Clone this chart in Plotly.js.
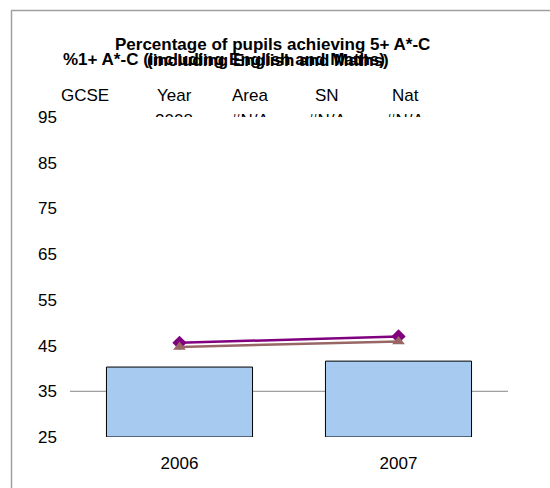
<!DOCTYPE html>
<html>
<head>
<meta charset="utf-8">
<script src="https://cdn.plot.ly/plotly-3.0.1.min.js"></script>
<style>html,body{margin:0;padding:0;background:#fff;}#chart{width:550px;height:488px;}</style>
</head>
<body>
<div id="chart"></div>
<script>
// ---- data ----
var years = ['2006', '2007'];
var schoolValues = [40.3, 41.6];
var areaValues = [45.6, 47.0];
var nationalValues = [44.7, 45.9];
var yTicks = [25, 35, 45, 55, 65, 75, 85, 95];
var referenceLine = 35;
var axisBase = 25;
var tableHeaders = ['GCSE', 'Year', 'Area', 'SN', 'Nat'];
var tableRow = ['', '2008', '#N/A', '#N/A', '#N/A'];
var titleLine1 = 'Percentage of pupils achieving 5+ A*-C';
var titleLine2 = '(including English and Maths)';
var overlapTitle = '%1+ A*-C (including English and Maths)';

// ---- layout geometry ----
var W = 550, H = 488;
var M = {l: 70, r: 42, t: 98, b: 51};
var pw = W - M.l - M.r, ph = H - M.t - M.b;
function px2x(px) { return (px - M.l) / pw; }
function px2y(py) { return 1 - (py - M.t) / ph; }
var plotTop = 117;

var FONT = 'Liberation Sans, Arial, sans-serif';
var headerX = [85, 174, 250, 327, 405];

var traces = [
  {
    type: 'bar', x: years,
    y: schoolValues.map(function (v) { return v - axisBase; }),
    base: axisBase,
    marker: {color: '#A6CAF0', line: {color: '#000000', width: 1}},
    hoverinfo: 'skip', showlegend: false
  },
  {
    type: 'scatter', mode: 'lines+markers', x: years, y: areaValues,
    line: {color: '#800080', width: 2.5},
    marker: {symbol: 'diamond', size: 11, color: '#800080'},
    showlegend: false, hoverinfo: 'skip'
  },
  {
    type: 'scatter', mode: 'lines+markers', x: years, y: nationalValues,
    line: {color: '#996666', width: 2.5},
    marker: {symbol: 'triangle-up', size: 11, color: '#996666'},
    showlegend: false, hoverinfo: 'skip'
  },
  {
    type: 'scatter', mode: 'text', xaxis: 'x2', yaxis: 'y2',
    x: headerX, y: tableRow.map(function () { return 0.2; }),
    text: tableRow, textposition: 'bottom center', cliponaxis: true,
    textfont: {family: FONT, size: 17, color: '#000000'},
    showlegend: false, hoverinfo: 'skip'
  }
];

var annotations = [
  {text: '<b>' + titleLine1 + '</b>', x: px2x(272), y: px2y(44.5)},
  {text: '<b>' + overlapTitle + '</b>', x: px2x(61), y: px2y(60), xanchor: 'left'},
  {text: '<b>' + titleLine2 + '</b>', x: px2x(268), y: px2y(61)}
];
annotations = annotations.map(function (a) {
  return Object.assign({xref: 'paper', yref: 'paper', showarrow: false,
    xanchor: 'center', yanchor: 'middle',
    font: {family: FONT, size: 17, color: '#000000'}}, a);
});
tableHeaders.forEach(function (h, i) {
  annotations.push({text: h, xref: 'paper', yref: 'paper', x: px2x(headerX[i]), y: px2y(95),
    showarrow: false, xanchor: 'center', yanchor: 'middle',
    font: {family: FONT, size: 17, color: '#000000'}});
});

var layout = {
  width: W, height: H,
  margin: M,
  paper_bgcolor: '#ffffff', plot_bgcolor: 'rgba(0,0,0,0)',
  bargap: 0.333,
  xaxis: {
    type: 'category', range: [-0.5, 1.5], showgrid: false, zeroline: false,
    showline: false, ticks: '', ticklabelstandoff: 14,
    tickfont: {family: FONT, size: 17, color: '#000000'}
  },
  yaxis: {
    domain: [0, px2y(plotTop)],
    range: [25, 95], tickvals: yTicks, showgrid: false, zeroline: false,
    showline: false, ticks: '', ticklabelstandoff: 12,
    tickfont: {family: FONT, size: 17, color: '#000000'}
  },
  xaxis2: {domain: [0, 1], range: [M.l, W - M.r], visible: false, anchor: 'y2'},
  yaxis2: {domain: [px2y(plotTop), 1], range: [0, 1], visible: false, anchor: 'x2'},
  shapes: [
    {type: 'line', xref: 'x domain', yref: 'y', x0: 0, x1: 1, y0: referenceLine, y1: referenceLine,
      line: {color: '#888888', width: 1}, layer: 'below'},
    {type: 'line', xref: 'paper', yref: 'paper', x0: px2x(11), x1: px2x(560), y0: px2y(10.5), y1: px2y(10.5),
      line: {color: '#A0A0A0', width: 1.5}},
    {type: 'line', xref: 'paper', yref: 'paper', x0: px2x(11.5), x1: px2x(11.5), y0: px2y(10.5), y1: px2y(500),
      line: {color: '#A0A0A0', width: 1.5}}
  ],
  annotations: annotations
};

Plotly.newPlot('chart', traces, layout, {displayModeBar: false, staticPlot: true});
</script>
</body>
</html>
